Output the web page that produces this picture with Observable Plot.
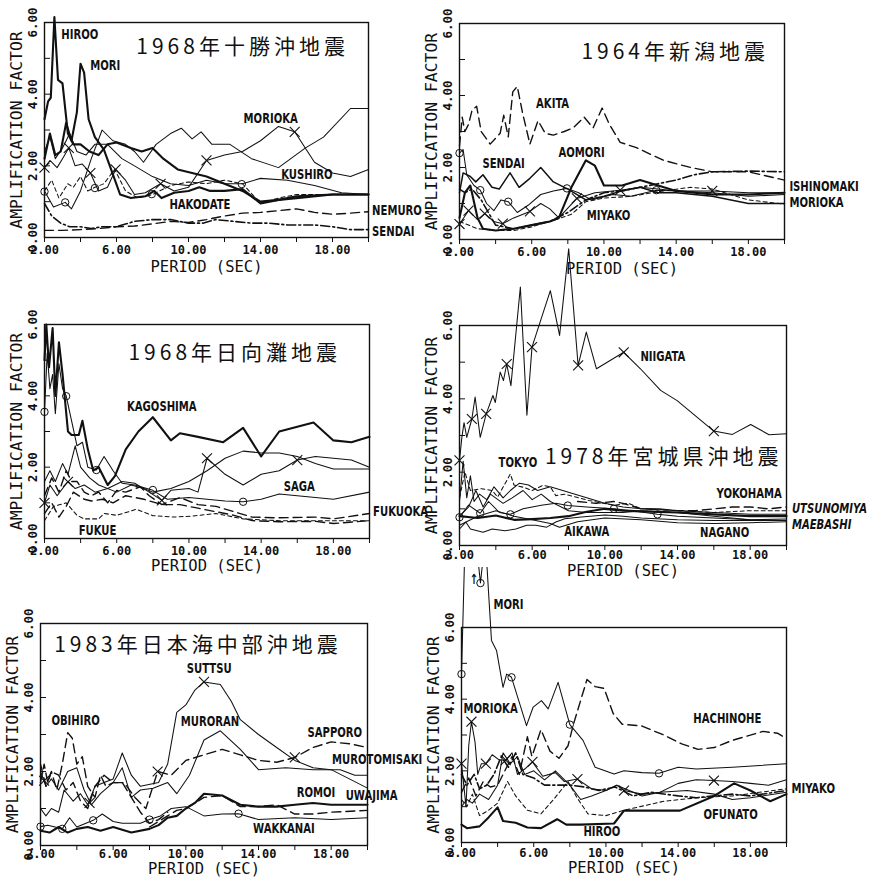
<!DOCTYPE html>
<html><head><meta charset="utf-8">
<script src="https://cdn.jsdelivr.net/npm/d3@7"></script>
<script src="https://cdn.jsdelivr.net/npm/@observablehq/plot@0.6"></script>
<style>
html,body{margin:0;padding:0;background:#fff;}
#wrap{position:relative;width:869px;height:882px;overflow:hidden;background:#fff;}
#wrap > svg{position:absolute;}
</style></head><body><div id="wrap"></div>
<script>
// ---------- axis ticks ----------
const xTicks = [2,4,6,8,10,12,14,16,18,20];
const xLabelTicks = [2,6,10,14,18];
const yTicks = [0,1,2,3,4,5,6];
const yLabelTicks = [0,2,4,6];
const xTitle = "PERIOD (SEC)";
const yTitle = "AMPLIFICATION FACTOR";

// ---------- panel 1: 1968 Tokachi-oki ----------
const p1Title = "1968年十勝沖地震";
const p1TitlePos = [7.1, 5.3];
const p1_HIROO = [[2,3.3],[2.2,3.8],[2.35,3.9],[2.55,6.15],[2.75,4.4],[3.0,4.3],[3.3,2.9],[3.6,2.6],[4.0,2.6],[4.5,2.4],[5.0,2.3],[5.5,2.6],[6.0,2.65],[6.8,2.5],[7.4,2.4],[8.0,2.5],[8.6,2.2],[9.4,1.9],[10.2,1.8],[11,1.7],[12,1.5],[13,1.3],[14,1.0],[15,1.05],[16,1.1],[18,1.2],[20,1.2]];
const p1_MORI = [[2,2.2],[2.3,2.9],[2.6,2.3],[2.9,2.4],[3.2,3.2],[3.5,2.7],[3.8,3.5],[4.0,4.85],[4.2,4.6],[4.45,3.3],[4.8,2.8],[5.3,2.45],[5.7,1.9],[6.2,1.2],[6.8,1.1],[7.6,1.15],[8.1,1.3],[8.5,1.1],[9.2,1.25],[10,1.3],[10.6,1.4],[11.2,1.3],[12,1.3],[13,1.35],[14,0.95],[15,1.05],[16,1.15],[18,1.2],[20,1.2]];
const p1_A = [[2,1.3],[2.5,0.85],[3.15,0.98],[3.5,0.8],[4,1.3],[4.6,2.2],[5.2,3.0],[5.8,2.7],[6.5,2.6],[7.0,2.4],[7.5,2.1],[8.2,2.6],[9.0,2.9],[9.6,3.05],[10.2,2.75],[10.7,2.95],[11.3,2.6],[12.3,2.6],[13.5,2.2],[15,1.95],[16.5,2.5],[17.5,2.8],[19,3.6],[20,3.6]];
const p1_MORIOKA = [[2,1.95],[2.3,2.15],[2.7,1.95],[3.0,2.2],[3.35,2.5],[3.7,2.0],[4.1,2.05],[4.55,1.8],[5.0,1.3],[5.5,1.4],[5.95,1.9],[6.5,1.6],[7.0,1.2],[7.6,1.25],[8.45,1.5],[9.2,1.3],[10,1.4],[11,2.15],[12,2.3],[13,2.4],[14,2.7],[15,3.1],[15.9,2.95],[17,2.1],[18,1.8],[19,1.7],[20,1.9]];
const p1_KUSHIRO = [[2,2.4],[2.3,2.8],[2.6,2.2],[3.0,2.5],[3.4,2.9],[3.8,2.4],[4.3,2.3],[4.8,2.6],[5.5,2.6],[6.3,2.2],[7,2.0],[8,1.7],[9,1.5],[10,1.45],[11,1.6],[12,1.5],[13,1.5],[14,1.65],[15.5,1.6],[17,1.45],[18.5,1.25],[20,1.2]];
const p1_HAKODATE = [[2,1.3],[2.4,1.6],[2.8,1.1],[3.3,1.5],[3.6,1.4],[4.0,1.7],[4.4,1.3],[4.8,1.4],[5.3,1.5],[5.9,1.9],[6.5,1.3],[7.2,1.1],[8,1.2],[9,1.45],[10,1.55],[11,1.5],[12,1.6],[13,1.5],[14,0.95],[15,1.1],[16,1.2],[18,1.2],[20,1.2]];
const p1_NEMURO = [[2,0.2],[3,0.2],[4,0.22],[5,0.25],[6,0.3],[7,0.32],[8,0.38],[9,0.45],[10,0.42],[11,0.5],[12,0.6],[13,0.68],[14,0.7],[15,0.75],[16,0.8],[17,0.7],[18,0.65],[19,0.68],[20,0.72]];
const p1_SENDAI = [[2,0.95],[2.4,0.6],[2.9,0.4],[3.4,0.3],[4,0.3],[4.6,0.25],[5.2,0.3],[6,0.3],[7,0.45],[8,0.5],[9,0.5],[10,0.4],[10.8,0.4],[11.5,0.5],[12.5,0.45],[13.5,0.4],[14.5,0.4],[15.5,0.35],[17,0.35],[18,0.3],[19,0.22],[20,0.22]];
const p1Circles = [[2,1.28],[3.15,0.98],[4.8,1.38],[7.96,1.21],[12.96,1.49]];
const p1Crosses = [[2,1.95],[3.35,2.5],[4.55,1.8],[5.95,1.9],[8.45,1.5],[11,2.15],[15.9,2.95]];
const p1Labels = [["HIROO",2.93,5.67],["MORI",4.54,4.81],["MORIOKA",13.06,3.33],["KUSHIRO",15.15,1.77],["HAKODATE",8.94,0.93],["NEMURO",20.2,0.75],["SENDAI",20.2,0.18]];

// ---------- panel 2: 1964 Niigata ----------
const p2Title = "1964年新潟地震";
const p2TitlePos = [8.75, 5.2];
const p2_AKITA = [[2,2.6],[2.15,3.4],[2.3,3.0],[2.5,3.2],[2.7,3.6],[2.95,3.7],[3.2,3.0],[3.7,2.65],[4.25,2.95],[4.45,3.45],[4.7,2.85],[4.95,4.1],[5.2,4.25],[5.5,3.5],[5.9,2.65],[6.35,3.3],[6.75,2.95],[7.2,2.9],[7.8,3.0],[8.3,3.1],[8.9,3.4],[9.4,3.1],[9.9,3.65],[10.3,3.2],[10.9,2.7],[11.8,2.55],[13.3,2.2],[14.8,2.0],[16,1.88],[18,1.88],[20,1.65]];
const p2_SENDAI = [[2,1.3],[2.2,1.85],[2.6,1.75],[2.9,1.6],[3.3,1.8],[3.8,1.45],[4.2,1.4],[4.8,1.85],[5.3,1.45],[5.9,1.7],[6.5,2.0],[7.2,1.6],[8,1.4],[9,1.1],[10,1.2],[11,1.35],[12,1.45],[13,1.3],[14,1.3],[16,1.2],[18,1.0],[20,1.0]];
const p2_AOMORI = [[2,0.6],[2.3,1.3],[2.6,1.5],[3.0,0.6],[3.3,0.3],[4,0.25],[5,0.3],[6,0.4],[7,0.5],[7.5,0.6],[8.2,1.45],[9.0,2.2],[9.5,2.05],[10,1.5],[11,1.5],[12,1.65],[13,1.5],[14,1.35],[16,1.25],[18,1.25],[20,1.3]];
const p2_C = [[2,2.4],[2.2,2.5],[2.4,1.8],[2.8,1.5],[3.15,1.37],[3.5,1.0],[3.9,0.8],[4.3,1.1],[4.7,1.05],[5.2,0.75],[5.8,0.95],[6.5,1.25],[7.2,1.35],[7.95,1.42],[8.6,1.3],[9.3,1.1],[10.5,1.25],[11.5,1.2],[12.9,1.37],[14,1.35],[16,1.3],[18,1.2],[20,1.25]];
const p2_X = [[2,0.43],[2.5,0.8],[3,0.55],[3.4,0.72],[3.9,0.5],[4.4,0.44],[5,0.6],[5.9,0.78],[6.5,1.0],[7.0,0.85],[7.5,0.6],[8.5,1.14],[9.5,1.3],[10.9,1.37],[12,1.45],[13,1.4],[14,1.35],[16,1.35],[18,1.3],[20,1.3]];
const p2_MIYAKO = [[2,0.5],[3,0.3],[4,0.25],[5,0.25],[6,0.35],[7.3,0.55],[8.2,0.7],[9,1.05],[10,1.15],[11.5,1.2],[13.3,1.35],[14.8,1.45],[16,1.4],[18,1.1],[20,0.98]];
const p2_ISHINOMAKI = [[2,1.4],[2.3,1.3],[2.7,1.4],[3.2,1.1],[4,0.4],[5,0.3],[6,0.4],[7,0.5],[8,0.75],[9,1.1],[10,1.3],[11,1.35],[12,1.45],[13,1.55],[14,1.65],[15,1.8],[16,1.88],[18,1.9],[20,1.88]];
const p2Circles = [[2,2.4],[3.15,1.37],[4.7,1.05],[7.95,1.42],[12.9,1.37]];
const p2Crosses = [[2,0.43],[2.5,0.8],[3.4,0.72],[4.4,0.44],[5.9,0.78],[8.5,1.14],[10.9,1.37],[16,1.35]];
const p2Labels = [["AKITA",6.24,3.78],["SENDAI",3.27,2.11],["AOMORI",7.48,2.41],["MIYAKO",9.05,0.66],["ISHINOMAKI",20.27,1.47],["MORIOKA",20.27,1.04]];

// ---------- panel 3: 1968 Hyuganada ----------
const p3Title = "1968年日向灘地震";
const p3TitlePos = [6.65, 5.2];
const p3_KAGOSHIMA = [[2,5.0],[2.1,6.0],[2.25,4.8],[2.45,5.9],[2.6,4.0],[2.8,5.5],[3.0,4.6],[3.3,3.0],[3.5,2.9],[3.9,2.9],[4.1,3.3],[4.4,2.5],[4.7,1.9],[5.0,2.0],[5.5,1.5],[5.9,1.75],[6.5,2.5],[7.2,3.0],[8.0,3.4],[9.0,2.75],[9.5,2.95],[10.5,2.85],[11.9,2.7],[13,3.1],[14,2.3],[15,3.0],[16.9,3.25],[18,2.75],[19,2.7],[20,2.85]];
const p3_B = [[2,3.55],[2.15,5.2],[2.3,4.2],[2.45,4.6],[2.6,3.5],[2.8,4.9],[3.0,4.2],[3.2,4.0],[3.5,3.3],[3.8,2.6],[4.1,2.7],[4.4,2.0],[4.87,1.92],[5.3,2.3],[5.8,1.9],[6.3,1.55],[7,1.5],[8,1.35],[8.8,1.1],[10,1.15],[11,1.1],[12,1.05],[13,1.03],[14,1.1],[15,1.25],[16,1.2],[17,1.15],[18,1.1],[20,1.3]];
const p3_SAGA = [[2,1.0],[2.3,1.5],[2.7,1.2],[3.3,1.6],[3.7,1.4],[4.2,1.5],[4.8,1.3],[5.5,1.4],[6.3,1.6],[7,1.55],[7.8,1.3],[8.5,1.07],[9,1.35],[10,1.4],[10.5,1.3],[11,2.25],[12,1.8],[13,1.5],[14,1.8],[15,1.9],[16,2.2],[17,2.3],[18,2.25],[19,2.2],[20,2.0]];
const p3_D = [[2,1.6],[2.3,1.9],[2.6,1.6],[3,2.1],[3.3,1.8],[3.7,2.6],[4,2.0],[4.5,1.7],[5,1.5],[6,1.3],[6.8,1.5],[7.5,1.4],[8,1.3],[9,1.4],[10,1.6],[11,1.9],[12,2.25],[13,2.45],[14,2.4],[15,2.4],[16,2.3],[17,2.1],[18,1.95],[19,1.95],[20,1.95]];
const p3_FUKUOKA = [[2,1.2],[2.4,1.7],[2.8,1.3],[3.2,1.9],[3.5,1.6],[3.8,1.6],[4.2,1.3],[4.6,1.2],[5,1.3],[5.5,1.0],[6,1.35],[6.5,1.3],[7.3,1.45],[7.8,1.2],[8.5,0.95],[9.5,1.15],[10.5,0.95],[11.5,0.9],[12.5,0.75],[13.5,0.6],[15,0.58],[17,0.6],[18,0.55],[20,0.7]];
const p3_E = [[2,0.7],[2.4,1.0],[2.8,0.6],[3.2,0.9],[3.6,1.3],[4.2,1.1],[4.6,1.05],[5.2,1.1],[5.8,1.0],[6.5,1.2],[7.5,1.1],[8.5,0.95],[9.5,0.95],[10.5,0.85],[11.5,0.75],[12.5,0.65],[13.5,0.5],[15,0.47],[17,0.48],[18,0.42],[20,0.5]];
const p3_FUKUE = [[2,0.5],[2.5,0.9],[3.2,1.0],[3.8,0.65],[4.2,0.55],[5,0.55],[5.3,0.7],[6,0.65],[7.1,0.82],[8,0.64],[9.2,0.6],[10.2,0.63],[11.5,0.7],[13,0.55],[15,0.5],[17,0.5],[20,0.5]];
const p3Circles = [[2,3.55],[3.2,3.99],[4.87,1.92],[8,1.36],[13,1.03]];
const p3Crosses = [[2,1.0],[3.3,1.59],[8.5,1.07],[11,2.25],[16,2.2]];
const p3Labels = [["KAGOSHIMA",6.57,3.71],["SAGA",15.25,1.45],["FUKUE",3.89,0.23],["FUKUOKA",20.2,0.77]];

// ---------- panel 4: 1978 Miyagi-ken-oki ----------
const p4Title = "1978年宮城県沖地震";
const p4TitlePos = [6.7, 2.4];
const p4_NIIGATA = [[2,2.32],[2.13,2.95],[2.25,3.35],[2.4,2.95],[2.68,3.45],[2.86,4.05],[3.14,2.95],[3.47,3.59],[3.84,4.09],[3.97,3.9],[4.24,4.73],[4.42,4.5],[4.6,4.95],[4.83,4.36],[5.35,7.05],[5.71,3.55],[5.99,5.41],[7.0,6.95],[7.51,5.73],[8.01,8.09],[8.53,4.91],[8.98,5.82],[9.54,4.82],[11.04,5.27],[11.96,4.82],[13.07,4.23],[13.98,3.95],[16,3.12],[17.02,3.03],[18.03,3.3],[19.04,3.02],[20,3.05]];
const p4_TOKYO = [[2,1.3],[2.3,2.0],[2.6,1.5],[3.2,1.55],[3.8,1.5],[4.1,1.32],[4.8,1.95],[5,1.65],[5.5,1.59],[6,1.5],[6.6,1.64],[7,1.6],[7.3,1.36],[7.8,1.4],[8.4,1.32],[9.1,1.23],[9.9,1.15],[10.5,1.1],[11.3,1.15],[12,1.0],[14,0.95],[16,0.9],[18,0.95],[20,0.95]];
const p4_YOKOHAMA = [[8.5,1.2],[9.5,1.15],[10.5,1.2],[11,1.15],[12,1.0],[13,0.98],[14,0.95],[15,0.95],[16,1.0],[17,1.05],[18,1.05],[19,1.0],[20,1.05]];
const p4_A = [[2,0.8],[3,0.75],[4,0.82],[5,0.7],[6,0.72],[7,0.75],[8,0.8],[9,0.92],[10,1.0],[11,0.95],[12,0.93],[14,0.9],[16,0.85],[18,0.8],[20,0.8]];
const p4_B = [[2,0.77],[2.5,1.1],[3.14,0.88],[3.6,1.2],[4.2,0.9],[4.8,0.85],[5.5,1.0],[6.5,1.1],[7.3,1.15],[7.96,1.09],[9,1.05],[10.5,1.0],[11.5,0.95],[12.9,0.85],[14,0.8],[16,0.75],[18,0.7],[20,0.72]];
const p4_UTSUNOMIYA = [[2,1.2],[2.2,2.3],[2.4,1.3],[2.6,1.9],[2.8,1.2],[3.1,1.4],[3.5,1.25],[3.9,1.6],[4.4,1.3],[4.8,1.5],[5.3,1.7],[5.8,1.65],[6.3,1.5],[7,1.6],[8,1.45],[9,1.3],[10,1.15],[11,1.05],[12,1.0],[13,1.0],[14,0.95],[16,0.9],[18,0.85],[20,0.85]];
const p4_MAEBASHI = [[2,0.8],[2.5,1.05],[2.9,1.5],[3.3,1.05],[3.7,1.4],[4.4,1.15],[4.9,1.3],[5.5,1.5],[6,1.25],[6.5,1.4],[7,1.2],[8,0.95],[9,0.9],[10,0.9],[11,0.9],[12,0.95],[14,0.9],[16,0.8],[18,0.7],[20,0.68]];
const p4_AIKAWA = [[2,0.45],[2.35,0.64],[2.6,0.45],[3.3,0.36],[3.8,0.45],[4.5,0.4],[5.1,0.45],[5.7,0.55],[6.2,0.55],[6.8,0.5],[7.3,0.64],[7.8,0.73],[8.7,0.78],[10,0.83],[11,0.8],[12,0.75],[14,0.7],[16,0.68],[18,0.68],[20,0.68]];
const p4_NAGANO = [[2,0.55],[3,0.8],[4,0.95],[5,0.8],[6,0.7],[7,0.6],[7.5,0.5],[8.5,0.65],[10,0.75],[12,0.7],[14,0.62],[16,0.6],[18,0.62],[20,0.65]];
const p4Circles = [[2,0.77],[3.14,0.88],[4.8,0.85],[7.96,1.09],[10.5,1.0],[12.9,0.85]];
const p4Crosses = [[2,2.32],[2.68,3.45],[3.47,3.59],[4.6,4.95],[5.99,5.41],[8.53,4.91],[11.04,5.27],[16,3.12]];
const p4Labels = [["NIIGATA",11.96,5.16],["TOKYO",4.15,2.27],["YOKOHAMA",16.15,1.43],["AIKAWA",7.77,0.38],["NAGANO",15.24,0.35],["UTSUNOMIYA",20.3,1.0],["MAEBASHI",20.3,0.58]];

// ---------- panel 5: 1983 Nihonkai-chubu-oki ----------
const p5Title = "1983年日本海中部沖地震";
const p5TitlePos = [2.75, 5.4];
const p5_SUTTSU = [[2,1.0],[2.3,0.8],[2.6,1.0],[3.0,0.9],[3.3,1.5],[3.8,1.2],[4.2,1.4],[4.6,1.1],[5.0,1.6],[5.5,1.7],[6.0,1.8],[6.5,2.5],[7.0,1.9],[7.5,1.6],[8.5,1.7],[9.0,2.2],[9.5,3.6],[10,3.8],[10.5,4.2],[11,4.42],[11.9,4.35],[12.5,3.9],[13,3.4],[14,3.0],[15,2.65],[16,2.3],[17,2.1],[18,2.05],[19,1.8],[20,1.55]];
const p5_MURORAN = [[2,2.0],[2.3,1.6],[2.6,1.8],[3,1.5],[3.5,2.0],[4,2.1],[4.4,1.5],[4.8,1.1],[5.3,1.4],[6,1.7],[6.5,2.1],[7,1.3],[7.5,1.5],[8.2,1.55],[9.0,1.7],[9.5,1.4],[10.2,1.9],[11,2.85],[11.9,3.1],[13,2.6],[14,2.05],[15.5,2.1],[17,2.05],[18.5,2.05],[19.3,1.9],[20,1.9]];
const p5_SAPPORO = [[2,2.2],[2.3,1.6],[2.6,2.0],[3,1.9],[3.4,1.5],[3.8,1.7],[4.2,1.2],[4.6,1.0],[5,1.6],[5.5,1.9],[6,1.7],[6.6,1.7],[7.2,1.3],[7.8,1.0],[8.45,2.0],[9.2,1.9],[10,2.3],[11,2.45],[12,2.6],[13,2.45],[14,2.3],[15,2.25],[16,2.38],[17,2.65],[18,2.8],[19,2.75],[20,2.65]];
const p5_OBIHIRO = [[2,1.7],[2.2,2.2],[2.4,1.7],[2.6,2.0],[2.9,1.5],[3.2,2.2],[3.5,3.05],[3.75,2.9],[4.0,2.2],[4.3,2.4],[4.6,1.6],[5.0,1.3],[5.3,1.9],[5.6,1.6],[6,1.7],[6.5,1.7],[7,1.3],[7.5,0.9],[8,0.6],[8.5,0.7],[9,0.9]];
const p5_UWAJIMA = [[8,0.5],[8.5,0.65],[9,0.8],[9.5,0.95],[10,1.0],[11,1.3],[12,1.35],[13,1.05],[14,1.05],[15,1.1],[16,0.85],[17,0.85],[18,0.9],[20,0.95]];
const p5_ROMOI = [[2,0.4],[2.5,0.35],[3,0.5],[3.5,0.35],[4,0.45],[4.6,0.5],[5.3,0.4],[6,0.5],[7,0.35],[8,0.45],[8.5,0.55],[9,0.75],[9.5,0.8],[10,1.0],[10.5,1.15],[11,1.4],[12,1.35],[13,1.1],[14,1.05],[15,1.05],[16,1.1],[17,1.15],[18,1.1],[20,1.1]];
const p5_WAKKANAI = [[2,0.51],[2.4,0.55],[2.8,0.5],[3.2,0.45],[3.6,0.75],[4.0,0.5],[4.5,0.6],[4.9,0.68],[5.4,0.85],[6,0.65],[6.5,0.6],[7,0.6],[7.5,0.6],[8,0.7],[8.6,0.8],[9.2,1.0],[10,1.05],[11,0.8],[12,0.85],[12.9,0.86],[14,0.7],[16,0.75],[18,0.7],[20,0.75]];
const p5Circles = [[2,0.51],[3.2,0.45],[4.9,0.68],[8,0.7],[12.9,0.86]];
const p5Crosses = [[2.2,1.75],[4.7,1.15],[8.45,2.0],[11,4.42],[16,2.38]];
const p5Labels = [["SUTTSU",10.05,4.78],["OBIHIRO",2.6,3.38],["MURORAN",9.72,3.36],["SAPPORO",16.7,3.05],["MUROTOMISAKI",18.05,2.32],["ROMOI",16.1,1.42],["UWAJIMA",18.8,1.34],["WAKKANAI",13.7,0.45]];

// ---------- panel 6 ----------
const p6_MORI = [[2,4.7],[2.2,8.5],[2.6,9.0],[2.85,8.2],[3.05,7.24],[3.25,8.2],[3.4,7.8],[3.66,5.64],[3.94,5.36],[4.3,4.33],[4.5,4.7],[4.77,4.61],[5.6,3.26],[5.97,3.78],[6.43,3.96],[6.8,3.73],[7.35,4.47],[8.0,3.29],[8.73,2.85],[9.4,2.1],[10.45,1.91],[11,2.0],[12,1.95],[12.94,1.93],[14,2.1],[15,2.05],[17,2.1],[20,2.2]];
const p6_HACHINOHE = [[2,1.4],[2.4,1.8],[2.8,1.3],[3.2,1.7],[3.6,1.55],[4.0,1.6],[4.4,2.0],[4.8,2.4],[5.2,1.9],[5.65,2.95],[5.9,2.4],[6.4,3.15],[6.9,2.55],[7.4,2.35],[7.9,2.7],[8.2,3.3],[8.95,4.55],[9.4,4.35],[9.9,4.3],[10.4,3.6],[10.9,3.3],[12,3.25],[13.2,3.0],[14.2,2.75],[15.1,2.6],[16,2.65],[17,2.85],[18.7,3.1],[19.5,3.05],[20,2.9]];
const p6_MORIOKA = [[2,2.2],[2.25,1.0],[2.4,2.7],[2.55,3.37],[2.75,2.8],[2.9,1.9],[3.1,2.2],[3.35,2.2],[3.7,2.45],[4.1,2.3],[4.45,2.3],[4.8,2.5],[5.1,1.9],[5.5,2.05],[5.93,2.25],[6.5,1.85],[7.2,1.95],[7.7,1.7],[8.42,1.77],[9.2,1.5],[10,1.45],[10.6,1.6],[11,1.45],[12,1.35],[13,1.4],[14,1.65],[15,1.75],[15.98,1.73],[17,1.7],[18,1.65],[19,1.6],[20,1.75]];
const p6_HIROO = [[2,0.5],[2.3,0.4],[3,0.45],[3.5,0.7],[4.0,0.98],[4.3,0.6],[5,0.55],[5.65,0.42],[6.4,0.4],[7.3,0.65],[7.8,0.5],[8.6,0.5],[10.45,0.53],[11,0.89],[14.1,0.89],[16,1.3],[17.1,1.65],[18,1.45],[19.1,1.15],[20,1.35]];
const p6_OFUNATO = [[2,1.2],[2.3,1.0],[2.6,1.35],[3,0.75],[3.5,0.9],[4,1.1],[4.55,1.7],[5,1.3],[5.65,0.9],[6.4,0.8],[7.1,1.2],[7.9,1.7],[8.4,1.25],[9,0.8],[10,0.75],[11,0.9],[13.2,1.15],[15.1,1.25],[17,1.3],[20,1.5]];
const p6_MIYAKO = [[2,1.0],[2.3,1.2],[2.6,1.1],[3,1.35],[3.5,1.2],[4,1.6],[4.3,2.5],[4.7,2.2],[5.1,2.4],[5.5,1.9],[6,2.0],[6.6,1.75],[7.2,2.0],[8,1.6],[8.6,1.2],[9.2,1.3],[10,1.45],[10.6,1.6],[12,1.3],[13,1.4],[14.5,1.45],[16,1.35],[17,1.2],[18,1.25],[20,1.4]];
const p6_G = [[2,1.9],[2.3,1.6],[2.7,1.9],[3,1.5],[3.4,1.6],[3.8,1.9],[4.2,2.4],[4.6,2.1],[5,2.5],[5.4,1.9],[6,1.8],[6.6,1.6],[7.2,1.6],[8,1.6],[8.8,1.55],[9.6,1.45],[10.5,1.55],[11.5,1.3],[12.5,1.4],[14,1.3],[15,1.25],[16,1.3],[17,1.35],[18,1.3],[20,1.45]];
const p6Circles = [[2,4.7],[3.05,7.24],[4.77,4.61],[8.0,3.29],[12.94,1.93]];
const p6Crosses = [[2,2.2],[2.55,3.37],[3.35,2.2],[4.45,2.3],[5.93,2.25],[8.42,1.77],[11,1.45],[15.98,1.73]];
const p6Labels = [["MORI",3.77,6.65],["MORIOKA",2.11,3.73],["HACHINOHE",14.84,3.47],["MIYAKO",20.27,1.52],["OFUNATO",15.4,0.77],["HIROO",8.75,0.31],["↑",2.45,7.35]];

const italicNames = ["UTSUNOMIYA","MAEBASHI"];

// ---------- drawing ----------
const INK = "#111";
const lineStyles = {
  thick: {strokeWidth: 2.1},
  thin: {strokeWidth: 1.05},
  mid: {strokeWidth: 1.5},
  dash: {strokeWidth: 1.4, strokeDasharray: "9,5"},
  shortdash: {strokeWidth: 1.05, strokeDasharray: "4,3"},
  dashdot: {strokeWidth: 1.6, strokeDasharray: "9,3,2,3"}
};
const monoFont = "'DejaVu Sans Mono', monospace";
const labelFont = "'DejaVu Sans Condensed', sans-serif";
const cjkFont = "'Noto Sans CJK JP', 'Noto Sans CJK SC', sans-serif";

function condense(svg) {
  // narrow the station-label lettering like the original plotter font
  svg.querySelectorAll('g[font-family*="Condensed"] text').forEach(t => {
    let tr = t.getAttribute("transform");
    if (!tr) {
      const x = t.getAttribute("x") || 0, y = t.getAttribute("y") || 0;
      t.removeAttribute("x"); t.removeAttribute("y");
      tr = `translate(${x},${y})`;
    }
    t.setAttribute("transform", tr + " scale(0.8,1)");
  });
}

function buildPanel(cfg) {
  const [fl, ft, fr, fb] = cfg.frame;
  const mL = cfg.mL, mR = 118, mT = cfg.mT, mB = 44;
  const W = fr - fl + mL + mR, H = fb - ft + mT + mB;
  const px = d => d[0], py = d => d[1];
  const marks = [];
  for (const s of cfg.series) {
    marks.push(Plot.line(s.data, {x: px, y: py, stroke: INK, strokeLinejoin: "round", ...lineStyles[s.style]}));
  }
  marks.push(Plot.frame({stroke: INK, strokeWidth: 1.4}));
  marks.push(Plot.dot(cfg.circles, {x: px, y: py, r: 3.7, stroke: INK, strokeWidth: 1, fill: "none"}));
  marks.push(Plot.dot(cfg.crosses, {x: px, y: py, r: 4.6, symbol: "times", stroke: INK, strokeWidth: 1.1}));
  marks.push(Plot.text(yLabelTicks, {y: d => d, text: d => d.toFixed(2), frameAnchor: "left", rotate: -90, dx: -12,
    textAnchor: "middle", fontFamily: monoFont, fontWeight: "bold", fontSize: 12.5, fill: INK}));
  marks.push(Plot.text([yTitle], {text: d => d, frameAnchor: "left", rotate: -90, dx: -28,
    textAnchor: "middle", fontFamily: monoFont, fontWeight: "normal", fontSize: 16.4, fill: INK}));
  marks.push(Plot.text([xTitle], {text: d => d, frameAnchor: "bottom", dy: cfg.xTitleDy,
    textAnchor: "middle", fontFamily: monoFont, fontWeight: "normal", fontSize: 15.5, fill: INK}));
  const normal = cfg.labels.filter(l => !italicNames.includes(l[0]));
  const ital = cfg.labels.filter(l => italicNames.includes(l[0]));
  const lab = {x: d => d[1], y: d => d[2], text: d => d[0], textAnchor: "start", fontFamily: labelFont, fontWeight: "bold", fontSize: 14, fill: INK};
  marks.push(Plot.text(normal, lab));
  if (ital.length) marks.push(Plot.text(ital, {...lab, fontStyle: "italic"}));
  if (cfg.title) {
    marks.push(Plot.text([cfg.title], {x: cfg.titlePos[0], y: cfg.titlePos[1], text: d => d, textAnchor: "start",
      fontFamily: cjkFont, fontWeight: "normal", fontSize: 21, fill: INK}));
  }
  const svg = Plot.plot({
    width: W, height: H,
    marginLeft: mL, marginRight: mR, marginTop: mT, marginBottom: mB,
    style: {background: "transparent", overflow: cfg.clip ? "hidden" : "visible",
      fontFamily: monoFont, fontSize: "12px", fontWeight: "bold", color: INK},
    x: {domain: [2, 20], ticks: xTicks, tickFormat: d => xLabelTicks.includes(d) ? d.toFixed(2) : "",
        tickSize: 5, tickPadding: cfg.tickPad, label: null},
    y: {domain: [0, 6], ticks: yTicks, tickFormat: () => "", tickSize: -6, label: null},
    marks
  });
  svg.style.left = (fl - mL) + "px";
  svg.style.top = (ft - mT) + "px";
  svg.style.maxWidth = "none";
  svg.querySelectorAll("text").forEach(t => {
    if (t.textContent.includes("年")) t.style.letterSpacing = "4px";
  });
  condense(svg);
  document.getElementById("wrap").appendChild(svg);
}

const panels = [
  {frame: [44,22,368,237], mL: 44, mT: 20, tickPad: 3, xTitleDy: 34, title: p1Title, titlePos: p1TitlePos,
   series: [{data:p1_HIROO,style:"thick"},{data:p1_MORI,style:"thick"},{data:p1_A,style:"thin"},{data:p1_MORIOKA,style:"thin"},
            {data:p1_KUSHIRO,style:"thin"},{data:p1_HAKODATE,style:"shortdash"},{data:p1_NEMURO,style:"dash"},{data:p1_SENDAI,style:"dashdot"}],
   circles: p1Circles, crosses: p1Crosses, labels: p1Labels},
  {frame: [459,23,784,239], mL: 50, mT: 20, tickPad: 3, xTitleDy: 34, title: p2Title, titlePos: p2TitlePos,
   series: [{data:p2_AKITA,style:"dash"},{data:p2_SENDAI,style:"mid"},{data:p2_AOMORI,style:"thick"},{data:p2_C,style:"thin"},
            {data:p2_X,style:"thin"},{data:p2_MIYAKO,style:"shortdash"},{data:p2_ISHINOMAKI,style:"dashdot"}],
   circles: p2Circles, crosses: p2Crosses, labels: p2Labels},
  {frame: [44,324,369,538], mL: 44, mT: 20, tickPad: 3, xTitleDy: 32, title: p3Title, titlePos: p3TitlePos,
   series: [{data:p3_KAGOSHIMA,style:"thick"},{data:p3_B,style:"thin"},{data:p3_SAGA,style:"thin"},{data:p3_D,style:"thin"},
            {data:p3_FUKUOKA,style:"dash"},{data:p3_E,style:"dash"},{data:p3_FUKUE,style:"shortdash"}],
   circles: p3Circles, crosses: p3Crosses, labels: p3Labels},
  {frame: [459,325,786,545], mL: 50, mT: 92, tickPad: 0, xTitleDy: 30, title: p4Title, titlePos: p4TitlePos,
   series: [{data:p4_NIIGATA,style:"thin"},{data:p4_TOKYO,style:"shortdash"},{data:p4_YOKOHAMA,style:"dash"},{data:p4_A,style:"thick"},
            {data:p4_B,style:"thin"},{data:p4_UTSUNOMIYA,style:"thin"},{data:p4_MAEBASHI,style:"thin"},{data:p4_AIKAWA,style:"thin"},{data:p4_NAGANO,style:"thin"}],
   circles: p4Circles, crosses: p4Crosses, labels: p4Labels},
  {frame: [40,623,367,845], mL: 40, mT: 20, tickPad: -1, xTitleDy: 28.5, title: p5Title, titlePos: p5TitlePos,
   series: [{data:p5_SUTTSU,style:"thin"},{data:p5_MURORAN,style:"thin"},{data:p5_SAPPORO,style:"dash"},{data:p5_OBIHIRO,style:"dash"},
            {data:p5_UWAJIMA,style:"dash"},{data:p5_ROMOI,style:"thick"},{data:p5_WAKKANAI,style:"thin"}],
   circles: p5Circles, crosses: p5Crosses, labels: p5Labels},
  {frame: [461,627,786,842], mL: 50, mT: 60, tickPad: 1, xTitleDy: 30, clip: true,
   series: [{data:p6_MORI,style:"thin"},{data:p6_HACHINOHE,style:"dash"},{data:p6_MORIOKA,style:"thin"},{data:p6_HIROO,style:"thick"},
            {data:p6_OFUNATO,style:"shortdash"},{data:p6_MIYAKO,style:"thin"},{data:p6_G,style:"dashdot"}],
   circles: p6Circles, crosses: p6Crosses, labels: p6Labels}
];
panels.forEach(buildPanel);
</script></body></html>
